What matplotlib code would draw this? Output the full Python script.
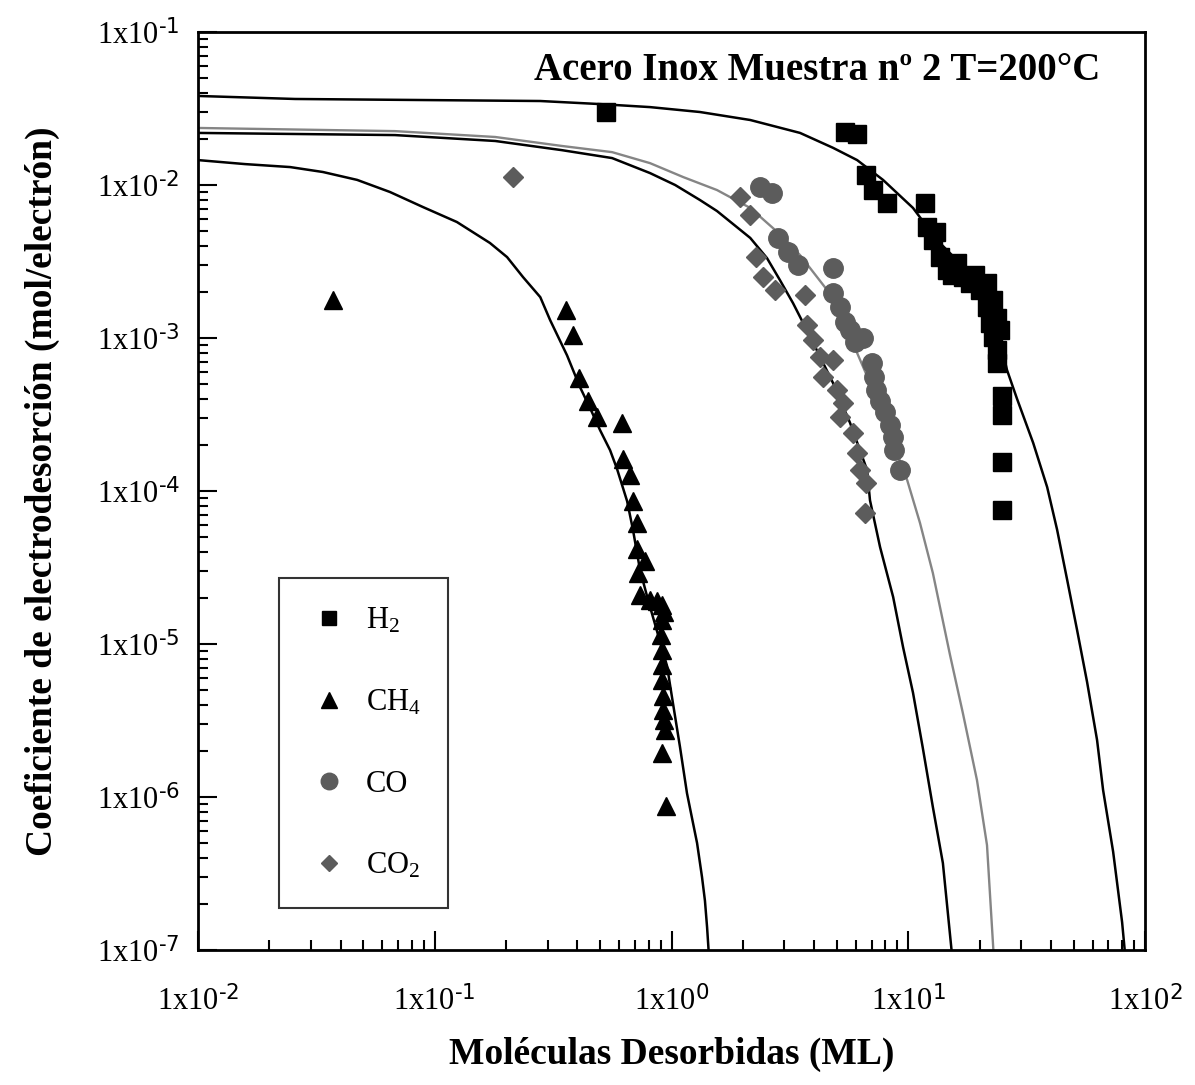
import numpy as np
import matplotlib
matplotlib.use("Agg")
import matplotlib.pyplot as plt
from matplotlib.ticker import FixedLocator, FuncFormatter, NullFormatter

plt.rcParams['font.family'] = ['Liberation Serif', 'DejaVu Serif']
plt.rcParams['mathtext.default'] = 'regular'
plt.rcParams['axes.unicode_minus'] = False

# ---- data: measured points ----
h2_x = [0.53, 5.4, 6.1, 6.6, 7.1, 8.1, 11.8, 12.0, 12.7, 13.1, 13.6, 14.6, 15.3, 16.1, 17.0,
        18.2, 19.1, 20.1, 21.5, 21.5, 22.1, 22.8, 22.8, 23.7, 23.7, 23.7, 24.4, 24.9, 24.9, 24.9, 24.9]
h2_y = [0.030, 0.0222, 0.0215, 0.0116, 0.0093, 0.0076, 0.0076, 0.0053, 0.0044, 0.0049, 0.0034, 0.0028,
        0.0026, 0.0031, 0.0025, 0.0023, 0.0026, 0.00206, 0.0023, 0.0016, 0.00125, 0.00102, 0.00177,
        0.00084, 0.00069, 0.00135, 0.00113, 0.00042, 0.000314, 0.000155, 7.5e-5]

ch4_x = [0.0371, 0.358, 0.384, 0.407, 0.444, 0.484, 0.618, 0.624, 0.668, 0.687, 0.714, 0.714, 0.722,
         0.736, 0.773, 0.811, 0.869, 0.912, 0.929, 0.912, 0.903, 0.912, 0.912, 0.912, 0.921, 0.921,
         0.929, 0.94, 0.912, 0.948]
ch4_y = [0.00177, 0.00152, 0.00105, 0.00055, 0.00039, 0.000305, 0.000278, 0.000162, 0.000127, 8.6e-5,
         6.2e-5, 4.2e-5, 2.9e-5, 2.1e-5, 3.5e-5, 1.94e-5, 1.91e-5, 1.80e-5, 1.62e-5, 1.44e-5, 1.15e-5,
         9.1e-6, 7.3e-6, 5.8e-6, 4.6e-6, 3.7e-6, 3.2e-6, 2.74e-6, 1.94e-6, 8.7e-7]

co_x = [2.37, 2.66, 2.82, 3.10, 3.42, 4.81, 4.81, 5.15, 5.41, 5.68, 5.96, 6.44, 7.03, 7.16, 7.31,
        7.60, 7.98, 8.37, 8.63, 8.71, 9.23]
co_y = [0.0097, 0.00887, 0.00451, 0.00365, 0.0030, 0.00287, 0.00197, 0.0016, 0.00127, 0.00113,
        0.00094, 0.0010, 0.00069, 0.00056, 0.00046, 0.00039, 0.00033, 0.00027, 0.000225, 0.000185,
        0.000137]

co2_x = [0.214, 1.95, 2.15, 2.28, 2.43, 2.73, 3.66, 3.73, 3.96, 4.24, 4.81, 4.36, 5.0, 5.30, 5.15,
         5.85, 6.08, 6.26, 6.63, 6.57]
co2_y = [0.0113, 0.00835, 0.00637, 0.00338, 0.0025, 0.00206, 0.00191, 0.00122, 0.00097, 0.00075,
         0.00072, 0.00056, 0.00046, 0.000376, 0.000305, 0.000239, 0.000177, 0.000137, 0.000113, 7.2e-5]

# ---- data: fitted curves ----
h2_fit_x = [0.01, 0.0257, 0.279, 0.499, 0.811, 1.318, 2.15, 3.49, 4.81, 6.08, 7.82, 10.47, 13.2,
            16.5, 21.1, 24.4, 26.1, 28.8, 33.7, 38.6, 42.5, 46.9, 51.6, 56.9, 62.7, 66.5, 73.3, 80.0, 82.4]
h2_fit_y = [0.0382, 0.0365, 0.0354, 0.0338, 0.0323, 0.030, 0.0266, 0.0219, 0.0175, 0.01455, 0.0108,
            0.00708, 0.00438, 0.00309, 0.00177, 0.00097, 0.00062, 0.000400, 0.000206, 0.000106, 5.6e-5,
            2.62e-5, 1.24e-5, 5.65e-6, 2.36e-6, 1.11e-6, 4.4e-7, 1.52e-7, 9.3e-8]

ch4_fit_x = [0.01, 0.0158, 0.0245, 0.0337, 0.047, 0.0647, 0.0891, 0.124, 0.171, 0.202, 0.236, 0.279,
             0.307, 0.362, 0.410, 0.453, 0.499, 0.550, 0.589, 0.649, 0.687, 0.736, 0.796, 0.877, 0.957,
             1.014, 1.086, 1.162, 1.22, 1.282, 1.345, 1.384, 1.413, 1.44]
ch4_fit_y = [0.01455, 0.0137, 0.0131, 0.01216, 0.0108, 0.0090, 0.00718, 0.00573, 0.00418, 0.00338,
             0.0025, 0.00185, 0.00131, 0.00077, 0.00048, 0.000348, 0.00025, 0.000185, 0.000139, 8.6e-5,
             5.6e-5, 3.05e-5, 1.94e-5, 1.15e-5, 7.2e-6, 4.1e-6, 2.12e-6, 1.06e-6, 7.3e-7, 5.0e-7,
             3.0e-7, 2.1e-7, 1.41e-7, 9e-8]

co_fit_x = [0.01, 0.0679, 0.180, 0.344, 0.561, 0.811, 1.12, 1.556, 2.15, 2.96, 3.49, 4.12, 4.54, 5.68,
            7.10, 8.63, 9.89, 11.2, 12.7, 15.0, 17.0, 19.5, 21.5, 23.0]
co_fit_y = [0.0236, 0.0225, 0.0206, 0.0180, 0.0164, 0.0139, 0.01127, 0.00927, 0.00708, 0.00457,
            0.00348, 0.0025, 0.00206, 0.00102, 0.000457, 0.000206, 0.000118, 6.2e-5, 2.91e-5, 8.5e-6,
            3.54e-6, 1.29e-6, 4.85e-7, 8.7e-8]

co2_fit_x = [0.01, 0.0679, 0.180, 0.344, 0.561, 0.811, 1.036, 1.318, 1.556, 2.15, 2.53, 2.87, 3.26,
             3.85, 4.81, 5.68, 6.70, 6.89, 7.60, 8.63, 9.51, 10.47, 11.5, 12.7, 14.0, 15.3]
co2_fit_y = [0.0219, 0.0212, 0.0194, 0.0169, 0.0150, 0.01197, 0.0100, 0.00798, 0.00676, 0.00451,
             0.00333, 0.00239, 0.00169, 0.00102, 0.000508, 0.000278, 0.000137, 8.7e-5, 4.3e-5, 2.03e-5,
             9.5e-6, 4.8e-6, 2.12e-6, 8.6e-7, 3.7e-7, 9.3e-8]

labels = ['H$_2$', 'CH$_4$', 'CO', 'CO$_2$']
title = 'Acero Inox Muestra nº 2 T=200°C'
xlabel = 'Moléculas Desorbidas (ML)'
ylabel = 'Coeficiente de electrodesorción (mol/electrón)'
x_major = [1e-2, 1e-1, 1e0, 1e1, 1e2]
y_major = [1e-7, 1e-6, 1e-5, 1e-4, 1e-3, 1e-2, 1e-1]

fig = plt.figure(figsize=(11.95, 10.85), dpi=100)
ax = fig.add_axes([0.1657, 0.1244, 0.7925, 0.8461])

gray = '#5c5c5c'
ax.plot(h2_fit_x, h2_fit_y, color='black', lw=1.8, zorder=2)
ax.plot(ch4_fit_x, ch4_fit_y, color='black', lw=1.8, zorder=2)
ax.plot(co_fit_x, co_fit_y, color='#858585', lw=1.7, zorder=2)
ax.plot(co2_fit_x, co2_fit_y, color='black', lw=1.8, zorder=2)

ax.plot(h2_x, h2_y, ls='none', marker='s', ms=12.5, color='black', label=labels[0], zorder=3)
ax.plot(ch4_x, ch4_y, ls='none', marker='^', ms=13, color='black', label=labels[1], zorder=3)
ax.plot(co_x, co_y, ls='none', marker='o', ms=14, color=gray, mec=gray, label=labels[2], zorder=3)
ax.plot(co2_x, co2_y, ls='none', marker='D', ms=10, color=gray, mec=gray, label=labels[3], zorder=3)

ax.set_xscale('log')
ax.set_yscale('log')
ax.set_xlim(1e-2, 1e2)
ax.set_ylim(1e-7, 1e-1)

def fmt(v, pos):
    e = int(round(np.log10(v)))
    return r'1x10$^{\text{%d}}$' % e

minor_x = [m * 10.0 ** e for e in range(-2, 2) for m in range(2, 10)]
minor_y = [m * 10.0 ** e for e in range(-7, -1) for m in range(2, 10)]
ax.xaxis.set_major_locator(FixedLocator(x_major))
ax.yaxis.set_major_locator(FixedLocator(y_major))
ax.xaxis.set_minor_locator(FixedLocator(minor_x))
ax.yaxis.set_minor_locator(FixedLocator(minor_y))
ax.xaxis.set_major_formatter(FuncFormatter(fmt))
ax.yaxis.set_major_formatter(FuncFormatter(fmt))
ax.xaxis.set_minor_formatter(NullFormatter())
ax.yaxis.set_minor_formatter(NullFormatter())

ax.tick_params(which='both', direction='in', top=False, right=False, labelsize=22, width=1.5)
ax.tick_params(which='major', length=14)
ax.tick_params(which='minor', length=7)
ax.tick_params(axis='y', which='major', pad=13)
ax.tick_params(axis='x', which='major', pad=26)
for s in ax.spines.values():
    s.set_linewidth(2.0)

ax.set_xlabel(xlabel, fontsize=27, fontweight='bold', labelpad=14)
ax.set_ylabel(ylabel, fontsize=27, fontweight='bold', labelpad=26)
ax.text(0.953, 0.958, title, transform=ax.transAxes, ha='right', va='center',
        fontsize=28, fontweight='bold')

leg = ax.legend(loc='upper left', bbox_to_anchor=(0.085, 0.405), frameon=True, fancybox=False,
                edgecolor='black', fontsize=22, labelspacing=1.72, borderpad=0.9,
                handletextpad=0.45, markerscale=0.85, handlelength=1.5, borderaxespad=0)
leg.get_frame().set_linewidth(1.5)

fig.savefig('out.png', dpi=100)
